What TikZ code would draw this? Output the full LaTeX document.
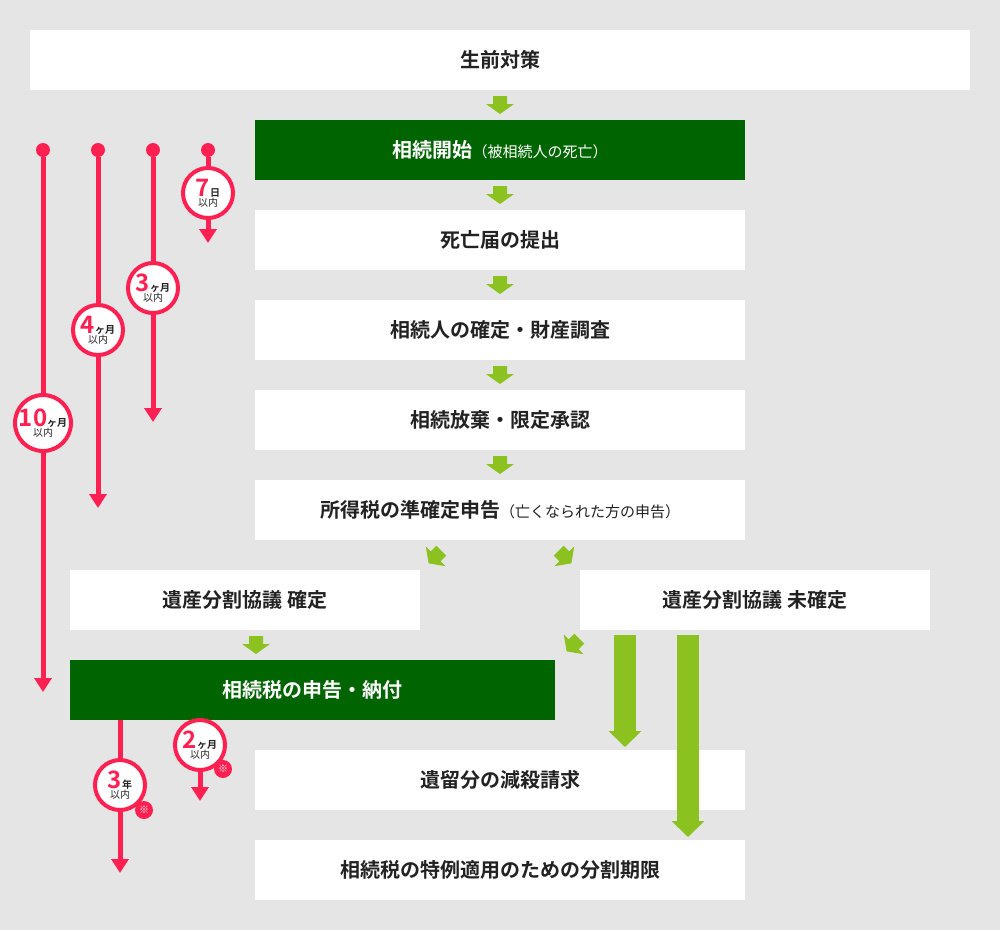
\documentclass[tikz,border=0pt]{standalone}
\usepackage{fontspec}
\setmainfont{Noto Sans CJK JP}[BoldFont={* Bold}]
\usetikzlibrary{positioning,arrows.meta}
\definecolor{bg}{HTML}{E5E5E5}
\definecolor{ink}{HTML}{222222}
\definecolor{dgreen}{HTML}{006400}
\definecolor{lgreen}{HTML}{8CC21F}
\definecolor{rose}{HTML}{FF2052}
% small block arrow: #1 position, #2 angle
\newcommand\garrow[2]{\fill[lgreen,shift={#1},rotate=#2] (-7,-9) -- (7,-9) -- (7,-1) -- (14,-1) -- (0,9) -- (-14,-1) -- (-7,-1) -- cycle;}
\begin{document}
\begin{tikzpicture}[x=1pt,y=-1pt]
	% Define custom styles
	\tikzset{
		box/.style={fill=white, minimum height=60pt, minimum width=490pt, inner sep=0pt, text=ink, font=\fontsize{20}{24}\selectfont\bfseries},
		gbox/.style={box, fill=dgreen, text=white},
		redline/.style={draw=rose, line width=5pt},
		redarrow/.style={redline, -{Triangle[width=17pt,length=14pt]}},
		dot/.style={circle, fill=rose, inner sep=0pt, minimum size=14pt},
		badge/.style={circle, draw=rose, line width=4pt, fill=white, minimum size=50pt, inner sep=0pt, align=center, text=ink, font=\fontsize{10}{10}\selectfont},
		note/.style={circle, fill=rose, text=white, inner sep=0pt, minimum size=18pt, font=\fontsize{10}{10}\selectfont}
	}
	\newcommand\num[1]{{\color{rose}\fontsize{24}{22}\selectfont\bfseries #1}}
	\fill[bg] (0,0) rectangle (1000,930);
	\useasboundingbox (0,0) rectangle (1000,930);

	% === NODES ===
	\node[box, minimum width=940pt] (pre) at (500,60) {生前対策};
	\node[gbox] (start) at (500,150) {相続開始{\mdseries\fontsize{15}{18}\selectfont（被相続人の死亡）}};
	\node[box] (death) at (500,240) {死亡届の提出};
	\node[box] (heir) at (500,330) {相続人の確定・財産調査};
	\node[box] (renounce) at (500,420) {相続放棄・限定承認};
	\node[box] (income) at (500,510) {所得税の準確定申告{\mdseries\fontsize{15}{18}\selectfont（亡くなられた方の申告）}};
	\node[box, minimum width=350pt] (agreed) at (245,600) {遺産分割協議 確定};
	\node[box, minimum width=350pt] (open) at (755,600) {遺産分割協議 未確定};
	\node[gbox, minimum width=485pt] (tax) at (312.5,690) {相続税の申告・納付};
	\node[box] (claim) at (500,780) {遺留分の減殺請求};
	\node[box] (limit) at (500,870) {相続税の特例適用のための分割期限};

	% === GREEN ARROWS ===
	\garrow{(500,105)}{0}
	\garrow{(500,195)}{0}
	\garrow{(500,285)}{0}
	\garrow{(500,375)}{0}
	\garrow{(500,465)}{0}
	\garrow{(256,645)}{0}
	\garrow{(435,557)}{-45}
	\garrow{(565,557)}{45}
	\garrow{(573,645)}{-45}
	\coordinate (c1) at (625,747);
	\coordinate (c2) at (688,837);
	\draw[lgreen, line width=22pt, -{Triangle[width=32pt,length=16pt]}] (625,635) -- (c1);
	\draw[lgreen, line width=22pt, -{Triangle[width=32pt,length=16pt]}] (688,635) -- (c2);

	% === DEADLINES ===
	\foreach \x/\y/\r in {43/692/ten, 98/508/four, 153/422/three, 208/243/seven}{
		\node[dot] (d\r) at (\x,150) {};
		\coordinate (e\r) at (\x,\y);
		\draw[redarrow] (d\r) -- (e\r);
	}
	\node[badge] (bseven) at (208,193) {\num{7}{\bfseries 日}\\以内};
	\node[badge] (bthree) at (153,288) {\num{3}{\bfseries ヶ月}\\以内};
	\node[badge] (bfour) at (98,330) {\num{4}{\bfseries ヶ月}\\以内};
	\node[badge] (bten) at (43,423) {\num{10}{\bfseries ヶ月}\\以内};

	\coordinate (t1) at (120,720);
	\coordinate (t2) at (200,720);
	\coordinate (f1) at (120,873);
	\coordinate (f2) at (200,801);
	\draw[redarrow] (t1) -- (f1);
	\draw[redarrow] (t2) -- (f2);
	\node[badge] (btwo) at (200,745) {\num{2}{\bfseries ヶ月}\\以内\hspace{8pt}};
	\node[badge] (byear) at (120,785) {\num{3}{\bfseries 年}\\以内\hspace{8pt}};
	\node[note] (ntwo) at (223,769) {※};
	\node[note] (nyear) at (144,810) {※};
\end{tikzpicture}
\end{document}
